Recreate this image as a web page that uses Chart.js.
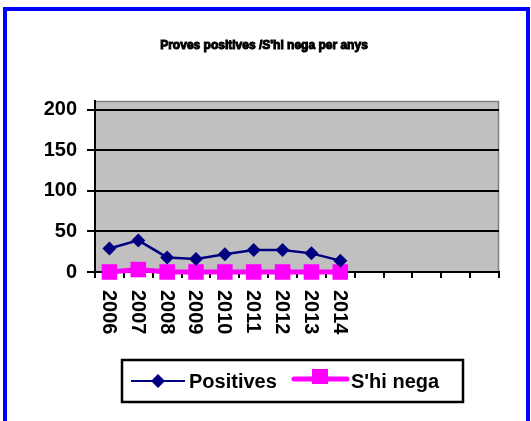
<!DOCTYPE html>
<html>
<head>
<meta charset="utf-8">
<script src="https://cdn.jsdelivr.net/npm/chart.js@4/dist/chart.umd.min.js"></script>
<style>
	html, body { margin: 0; padding: 0; background: #fff; overflow: hidden; }
	#wrap { position: relative; width: 531px; height: 421px; }
	#frame { position: absolute; left: 3px; top: 7px; width: 519px; height: 480px; border: 4px solid #0000ff; border-bottom: none; }
	canvas { position: absolute; left: 0; top: 0; }
</style>
</head>
<body>
<div id="wrap">
	<canvas id="chart" width="531" height="421"></canvas>
	<div id="frame"></div>
</div>
<script>
var years = ['2006', '2007', '2008', '2009', '2010', '2011', '2012', '2013', '2014', '', '', '', '', ''];
var positives = [29, 39, 18, 16, 22, 27, 27, 23, 14];
var shiNega = [0, 3, 0, 0, 0, 0, 0, 0, 0];
var yTicks = [0, 50, 100, 150, 200];
var titleText = "Proves positives /S'hi nega per anys";

var FONT = "'Liberation Sans', Arial, sans-serif";

// gray plot background with a thin darker edge, like the old Excel chart
var plotBg = {
	id: 'plotBg',
	beforeDraw: function(chart) {
		var a = chart.chartArea, ctx = chart.ctx;
		ctx.save();
		ctx.fillStyle = '#c0c0c0';
		ctx.fillRect(a.left, a.top, a.right - a.left, a.bottom - a.top);
		ctx.strokeStyle = '#808080';
		ctx.lineWidth = 1.5;
		ctx.beginPath();
		ctx.moveTo(a.left, a.top + 0.5);
		ctx.lineTo(a.right - 0.5, a.top + 0.5);
		ctx.lineTo(a.right - 0.5, a.bottom);
		ctx.stroke();
		ctx.restore();
	}
};

// heavy narrow title, x labels read top-to-bottom, boxed legend under them
var extras = {
	id: 'extras',
	afterDraw: function(chart) {
		var ctx = chart.ctx, x = chart.scales.x;
		ctx.save();

		ctx.fillStyle = '#000';
		ctx.strokeStyle = '#000';
		ctx.lineWidth = 1;
		ctx.font = "bold 12px 'Liberation Sans Narrow', " + FONT;
		ctx.textAlign = 'center';
		ctx.textBaseline = 'middle';
		ctx.fillText(titleText, 264, 46);
		ctx.strokeText(titleText, 264, 46);

		ctx.font = 'bold 20px ' + FONT;
		ctx.textAlign = 'left';
		years.forEach(function(lbl, i) {
			if (!lbl) return;
			ctx.save();
			ctx.translate(x.getPixelForTick(i) - 1, x.top + 18);
			ctx.rotate(Math.PI / 2);
			ctx.fillText(lbl, 0, 0);
			ctx.restore();
		});

		// legend
		var ds = chart.data.datasets;
		var ly = 381;
		ctx.fillStyle = '#fff';
		ctx.fillRect(122, 360, 341, 42);
		ctx.strokeStyle = '#000';
		ctx.lineWidth = 2.5;
		ctx.strokeRect(122, 360, 341, 42);

		ctx.strokeStyle = ds[0].borderColor;
		ctx.lineWidth = 2;
		ctx.beginPath();
		ctx.moveTo(131, ly); ctx.lineTo(185, ly);
		ctx.stroke();
		ctx.fillStyle = ds[0].borderColor;
		ctx.beginPath();
		ctx.moveTo(158, ly - 7); ctx.lineTo(165, ly); ctx.lineTo(158, ly + 7); ctx.lineTo(151, ly);
		ctx.closePath();
		ctx.fill();

		ctx.strokeStyle = ds[1].borderColor;
		ctx.lineWidth = 5;
		ctx.lineCap = 'round';
		ctx.beginPath();
		ctx.moveTo(294, ly - 2); ctx.lineTo(347, ly - 2);
		ctx.stroke();
		ctx.fillStyle = ds[1].borderColor;
		ctx.fillRect(312, ly - 12, 16, 15);

		ctx.fillStyle = '#000';
		ctx.font = 'bold 20px ' + FONT;
		ctx.fillText(ds[0].label, 189, ly + 1);
		ctx.fillText(ds[1].label, 351, ly + 1);
		ctx.restore();
	}
};

new Chart(document.getElementById('chart'), {
	type: 'line',
	data: {
		labels: years,
		datasets: [{
			label: 'Positives',
			data: positives,
			borderColor: '#000080',
			backgroundColor: '#000080',
			borderWidth: 2.5,
			pointStyle: 'rectRot',
			pointRadius: 7,
			pointBorderWidth: 0,
			tension: 0,
			clip: false
		}, {
			label: "S'hi nega",
			data: shiNega,
			borderColor: '#ff00ff',
			backgroundColor: '#ff00ff',
			borderWidth: 5,
			pointStyle: 'rect',
			pointRadius: 11,
			pointBorderWidth: 0,
			tension: 0,
			clip: false
		}]
	},
	options: {
		responsive: false,
		animation: false,
		layout: { padding: { left: 0, right: 32, top: 101, bottom: 0 } },
		plugins: {
			legend: { display: false },
			tooltip: { enabled: false },
			title: { display: false }
		},
		scales: {
			x: {
				offset: true,
				grid: { offset: true, drawOnChartArea: false, color: '#000', lineWidth: 2, tickLength: 6 },
				border: { color: '#000', width: 2 },
				ticks: { display: false },
				afterFit: function(s) { s.height = 149; }
			},
			y: {
				min: 0,
				max: 211,
				afterBuildTicks: function(s) { s.ticks = yTicks.map(function(v) { return { value: v }; }); },
				grid: { color: '#000', lineWidth: 2, tickLength: 8 },
				border: { color: '#000', width: 2 },
				ticks: { color: '#000', padding: 10, font: { family: FONT, size: 20, weight: 'bold' } },
				afterFit: function(s) { s.width = 95; }
			}
		}
	},
	plugins: [plotBg, extras]
});
</script>
</body>
</html>
